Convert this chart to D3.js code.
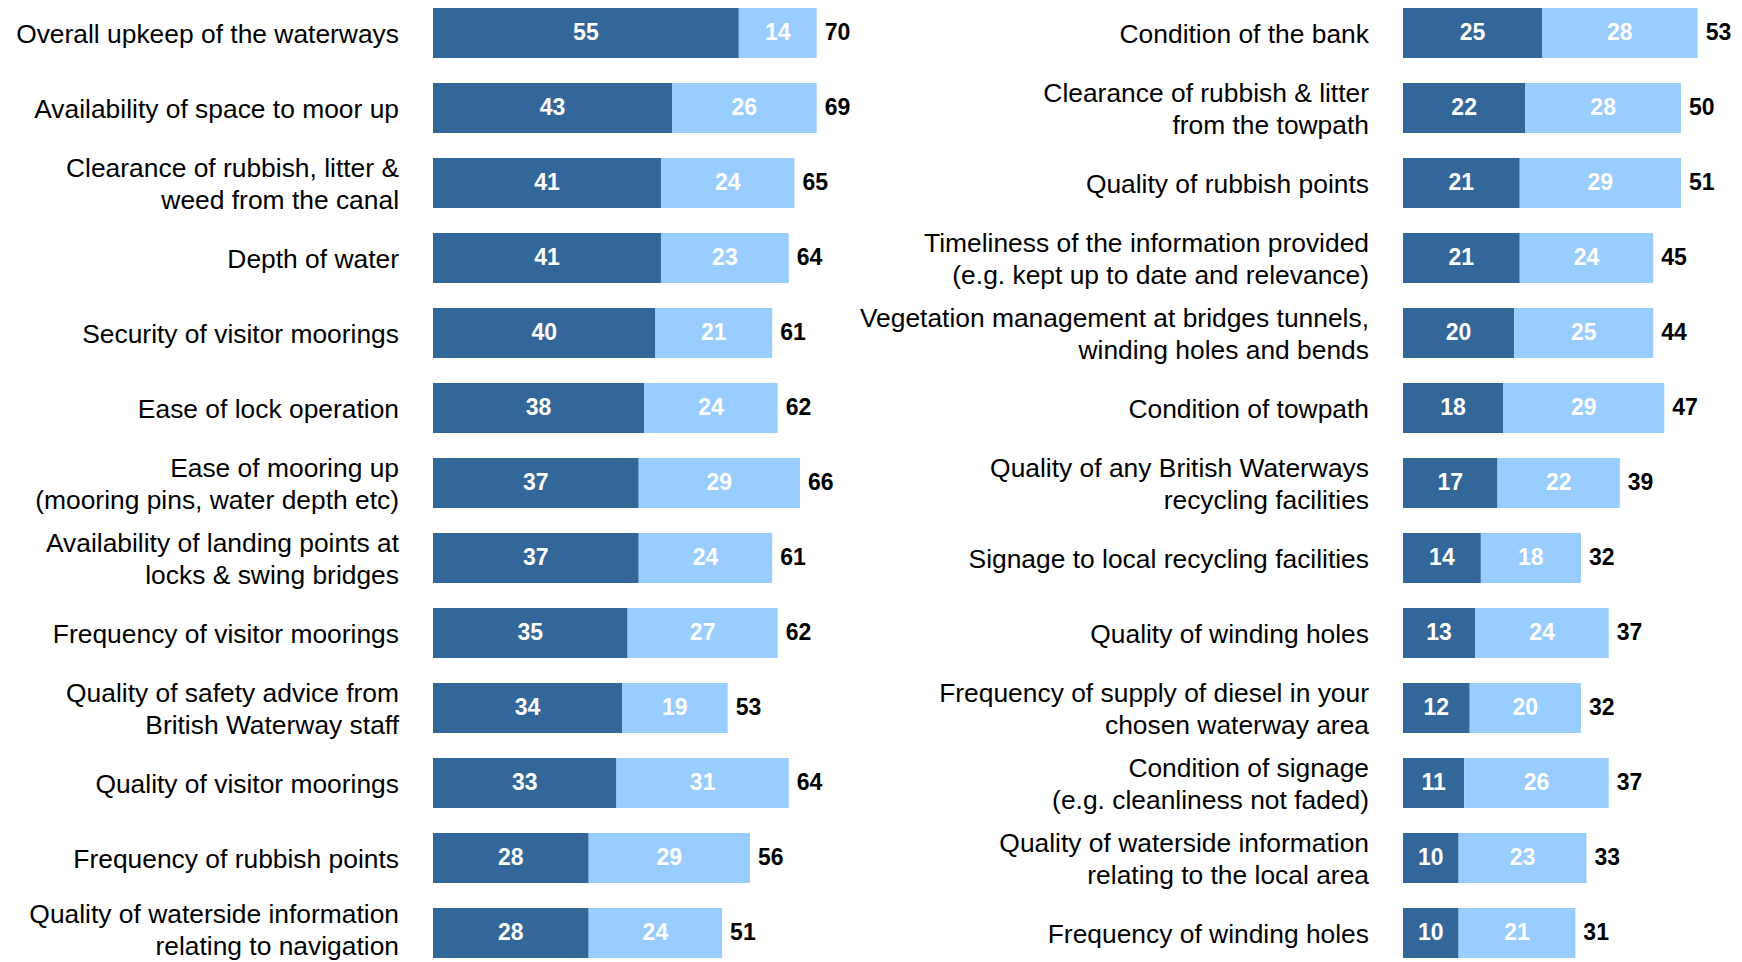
<!DOCTYPE html>
<html>
<head>
<meta charset="utf-8">
<script src="https://cdn.jsdelivr.net/npm/d3@7"></script>
<style>
  html, body { margin: 0; padding: 0; background: #fff; }
  svg { display: block; }
</style>
</head>
<body>
<svg id="chart" width="1742" height="962"></svg>
<script>

// left hand list
var leftCats = [
    "Overall upkeep of the waterways",
    "Availability of space to moor up",
    "Clearance of rubbish, litter &\nweed from the canal",
    "Depth of water",
    "Security of visitor moorings",
    "Ease of lock operation",
    "Ease of mooring up\n(mooring pins, water depth etc)",
    "Availability of landing points at\nlocks & swing bridges",
    "Frequency of visitor moorings",
    "Quality of safety advice from\nBritish Waterway staff",
    "Quality of visitor moorings",
    "Frequency of rubbish points",
    "Quality of waterside information\nrelating to navigation"
];
var leftDark  = [55, 43, 41, 41, 40, 38, 37, 37, 35, 34, 33, 28, 28];
var leftLight = [14, 26, 24, 23, 21, 24, 29, 24, 27, 19, 31, 29, 24];
var leftTotal = [70, 69, 65, 64, 61, 62, 66, 61, 62, 53, 64, 56, 51];

// right hand list
var rightCats = [
    "Condition of the bank",
    "Clearance of rubbish & litter\nfrom the towpath",
    "Quality of rubbish points",
    "Timeliness of the information provided\n(e.g. kept up to date and relevance)",
    "Vegetation management at bridges tunnels,\nwinding holes and bends",
    "Condition of towpath",
    "Quality of any British Waterways\nrecycling facilities",
    "Signage to local recycling facilities",
    "Quality of winding holes",
    "Frequency of supply of diesel in your\nchosen waterway area",
    "Condition of signage\n(e.g. cleanliness not faded)",
    "Quality of waterside information\nrelating to the local area",
    "Frequency of winding holes"
];
var rightDark  = [25, 22, 21, 21, 20, 18, 17, 14, 13, 12, 11, 10, 10];
var rightLight = [28, 28, 29, 24, 25, 29, 22, 18, 24, 20, 26, 23, 21];
var rightTotal = [53, 50, 51, 45, 44, 47, 39, 32, 37, 32, 37, 33, 31];

var DARK = "#336699", LIGHT = "#99CCFF";
var FONT = "'Liberation Sans', Arial, sans-serif";
var H = 962;

var svg = d3.select("#chart");

var y = d3.scaleBand().domain(d3.range(13)).range([8, 958])
          .paddingInner(1/3).paddingOuter(0);
var x = d3.scaleLinear().domain([0, 100]).range([0, 556]);

function draw_panel( cats, dark, light, total, barX, labelX ){

    var g = svg.append("g");
    var rows = g.selectAll("g.row").data(cats).enter().append("g").attr("class", "row");

    rows.each(function(c, i){
        var row = d3.select(this);
        var cy = y(i) + y.bandwidth()/2;
        var d = dark[i], l = light[i];

        row.append("rect")
            .attr("x", barX).attr("y", y(i))
            .attr("width", x(d)).attr("height", y.bandwidth())
            .attr("fill", DARK);
        row.append("rect")
            .attr("x", barX + x(d)).attr("y", y(i))
            .attr("width", x(l)).attr("height", y.bandwidth())
            .attr("fill", LIGHT);

        row.append("text")
            .attr("x", barX + x(d)/2).attr("y", cy + 6.5)
            .attr("text-anchor", "middle")
            .style("font-family", FONT).style("font-size", "23px").style("font-weight", "bold")
            .style("fill", "#fff")
            .text(d);
        row.append("text")
            .attr("x", barX + x(d) + x(l)/2).attr("y", cy + 6.5)
            .attr("text-anchor", "middle")
            .style("font-family", FONT).style("font-size", "23px").style("font-weight", "bold")
            .style("fill", "#fff")
            .text(l);
        row.append("text")
            .attr("x", barX + x(d + l) + 8).attr("y", cy + 7)
            .attr("text-anchor", "start")
            .style("font-family", FONT).style("font-size", "23px").style("font-weight", "bold")
            .style("fill", "#000")
            .text(total[i]);

        // category label, one or two lines, right aligned
        var lines = c.split("\n");
        var lh = 32;
        var base = cy + 9.5 - (lines.length - 1)/2 * lh;
        // keep the last line's descenders inside the picture
        var last = base + (lines.length - 1) * lh;
        if( last > H - 7 ) base -= last - (H - 7);
        var t = row.append("text")
            .attr("text-anchor", "end")
            .style("font-family", FONT).style("font-size", "26.4px")
            .style("fill", "#000");
        lines.forEach(function(s, k){
            t.append("tspan")
                .attr("x", labelX)
                .attr("y", base + k * lh)
                .text(s);
        });
    });
}

draw_panel( leftCats, leftDark, leftLight, leftTotal, 433, 399 );
draw_panel( rightCats, rightDark, rightLight, rightTotal, 1403, 1369 );

</script>
</body>
</html>
